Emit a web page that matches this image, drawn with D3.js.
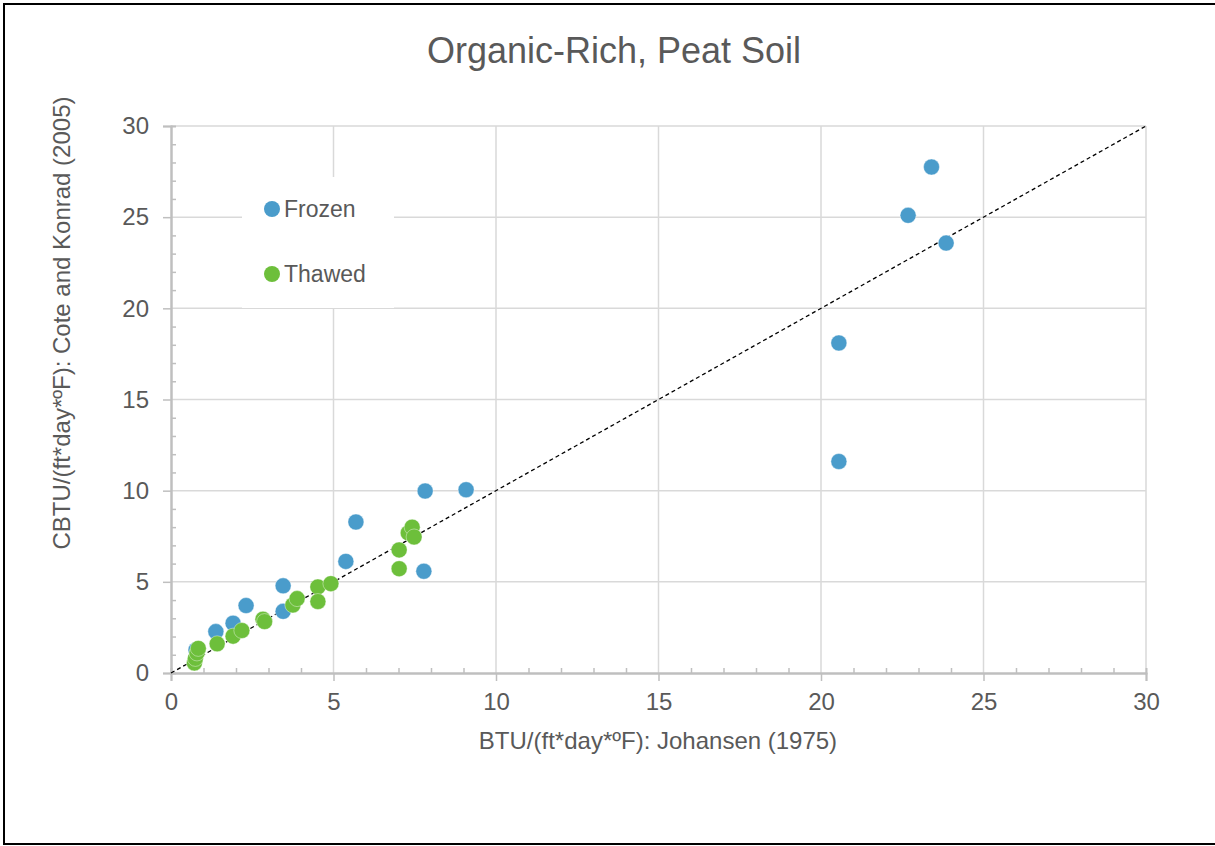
<!DOCTYPE html>
<html>
<head>
<meta charset="utf-8">
<script src="https://cdn.jsdelivr.net/npm/d3@7"></script>
<style>
  body { margin: 0; background: #fff; }
  text { font-family: "Liberation Sans", Arial, sans-serif; fill: #595959; }
</style>
</head>
<body>
<div id="main"></div>
<script>
// values
const frozenX = [20.55, 20.55, 22.68, 23.4, 23.85, 9.08, 7.82, 7.78, 5.69, 5.38, 3.45, 3.45, 2.31, 1.91, 1.38, 0.77];
const frozenY = [18.1, 11.6, 25.1, 27.75, 23.58, 10.05, 9.98, 5.58, 8.28, 6.12, 4.78, 3.38, 3.7, 2.73, 2.27, 1.26];
const thawedX = [0.72, 0.75, 0.8, 0.84, 1.42, 1.91, 2.18, 2.83, 2.88, 3.75, 3.88, 4.52, 4.52, 4.92, 7.02, 7.02, 7.3, 7.42, 7.48];
const thawedY = [0.55, 0.8, 1.1, 1.35, 1.6, 2.02, 2.33, 2.95, 2.82, 3.73, 4.08, 4.72, 3.92, 4.9, 6.75, 5.72, 7.68, 8.0, 7.46];
const tickValues = [0, 5, 10, 15, 20, 25, 30];
const seriesNames = ["Frozen", "Thawed"];
const seriesColors = ["#4a9ccb", "#6dbf3b"];

const ctx = {
    w: 1215,
    h: 846,
    left: 171,
    right: 1146,
    top: 126,
    bottom: 673
};

function createViz() {
    let svg = d3.select("#main").append("svg")
        .attr("width", ctx.w)
        .attr("height", ctx.h);

    // outer frame
    svg.append("rect")
        .attr("x", 4).attr("y", 4)
        .attr("width", 1230).attr("height", 840)
        .attr("fill", "white")
        .attr("stroke", "black")
        .attr("stroke-width", 2);

    let xScale = d3.scaleLinear().domain([0, 30]).range([ctx.left, ctx.right]);
    let yScale = d3.scaleLinear().domain([0, 30]).range([ctx.bottom, ctx.top]);

    let gridG = svg.append("g").attr("id", "gridG");
    gridG.selectAll("line.vg")
        .data(tickValues.slice(1))
        .enter().append("line")
        .attr("class", "vg")
        .attr("x1", (d) => xScale(d)).attr("x2", (d) => xScale(d))
        .attr("y1", ctx.top).attr("y2", ctx.bottom)
        .attr("stroke", "#d9d9d9").attr("stroke-width", 1.5);
    gridG.selectAll("line.hg")
        .data(tickValues.slice(1))
        .enter().append("line")
        .attr("class", "hg")
        .attr("x1", ctx.left).attr("x2", ctx.right)
        .attr("y1", (d) => yScale(d)).attr("y2", (d) => yScale(d))
        .attr("stroke", "#d9d9d9").attr("stroke-width", 1.5);

    // minor ticks every 1 unit, pointing into the plot
    let minor = d3.range(0, 31).filter((d) => d % 5 != 0);
    let xMinor = d3.axisTop(xScale).tickValues(minor).tickSize(5).tickFormat("");
    let yMinor = d3.axisRight(yScale).tickValues(minor).tickSize(5).tickFormat("");
    svg.append("g").attr("transform", "translate(0," + ctx.bottom + ")").call(xMinor);
    svg.append("g").attr("transform", "translate(" + ctx.left + ",0)").call(yMinor);

    // major axes
    let xAxis = d3.axisBottom(xScale).tickValues(tickValues).tickSize(8).tickPadding(12);
    let yAxis = d3.axisLeft(yScale).tickValues(tickValues).tickSize(8).tickPadding(14);
    svg.append("g").attr("class", "axis")
        .attr("transform", "translate(0," + ctx.bottom + ")").call(xAxis);
    svg.append("g").attr("class", "axis")
        .attr("transform", "translate(" + ctx.left + ",0)").call(yAxis);

    svg.selectAll(".domain").attr("stroke", "#bfbfbf").attr("stroke-width", 2);
    svg.selectAll(".tick line").attr("stroke", "#bfbfbf").attr("stroke-width", 1.5);
    svg.selectAll(".axis .tick text")
        .attr("font-size", 24)
        .attr("font-family", "Liberation Sans, Arial, sans-serif")
        .attr("fill", "#595959");

    // 1:1 line
    svg.append("line")
        .attr("x1", xScale(0)).attr("y1", yScale(0))
        .attr("x2", xScale(30)).attr("y2", yScale(30))
        .attr("stroke", "black")
        .attr("stroke-width", 1.3)
        .attr("stroke-dasharray", "4,3");

    // legend box (hides gridlines)
    let legend = svg.append("g").attr("id", "legend");
    legend.append("rect")
        .attr("x", 242).attr("y", 177)
        .attr("width", 152).attr("height", 131)
        .attr("fill", "white");
    seriesNames.forEach((name, i) => {
        let y = 209 + i * 65;
        legend.append("circle")
            .attr("cx", 272).attr("cy", y).attr("r", 8)
            .attr("fill", seriesColors[i]);
        legend.append("text")
            .attr("x", 284).attr("y", y + 8)
            .attr("font-size", 23)
            .text(name);
    });

    // points
    let frozen = frozenX.map((x, i) => ({ x: x, y: frozenY[i] }));
    let thawed = thawedX.map((x, i) => ({ x: x, y: thawedY[i] }));
    [frozen, thawed].forEach((data, i) => {
        svg.append("g").selectAll("circle")
            .data(data)
            .enter().append("circle")
            .attr("cx", (d) => xScale(d.x))
            .attr("cy", (d) => yScale(d.y))
            .attr("r", 8)
            .attr("fill", seriesColors[i])
            .attr("stroke", "white")
            .attr("stroke-opacity", 0.5)
            .attr("stroke-width", 0.8);
    });

    // titles
    svg.append("text")
        .attr("x", 614).attr("y", 63)
        .attr("text-anchor", "middle")
        .attr("font-size", 36)
        .text("Organic-Rich, Peat Soil");
    svg.append("text")
        .attr("x", 658).attr("y", 749)
        .attr("text-anchor", "middle")
        .attr("font-size", 24)
        .text("BTU/(ft*day*ºF): Johansen (1975)");
    svg.append("text")
        .attr("transform", "translate(70,323) rotate(-90)")
        .attr("text-anchor", "middle")
        .attr("font-size", 24)
        .text("CBTU/(ft*day*ºF): Cote and Konrad (2005)");
}

createViz();
</script>
</body>
</html>
